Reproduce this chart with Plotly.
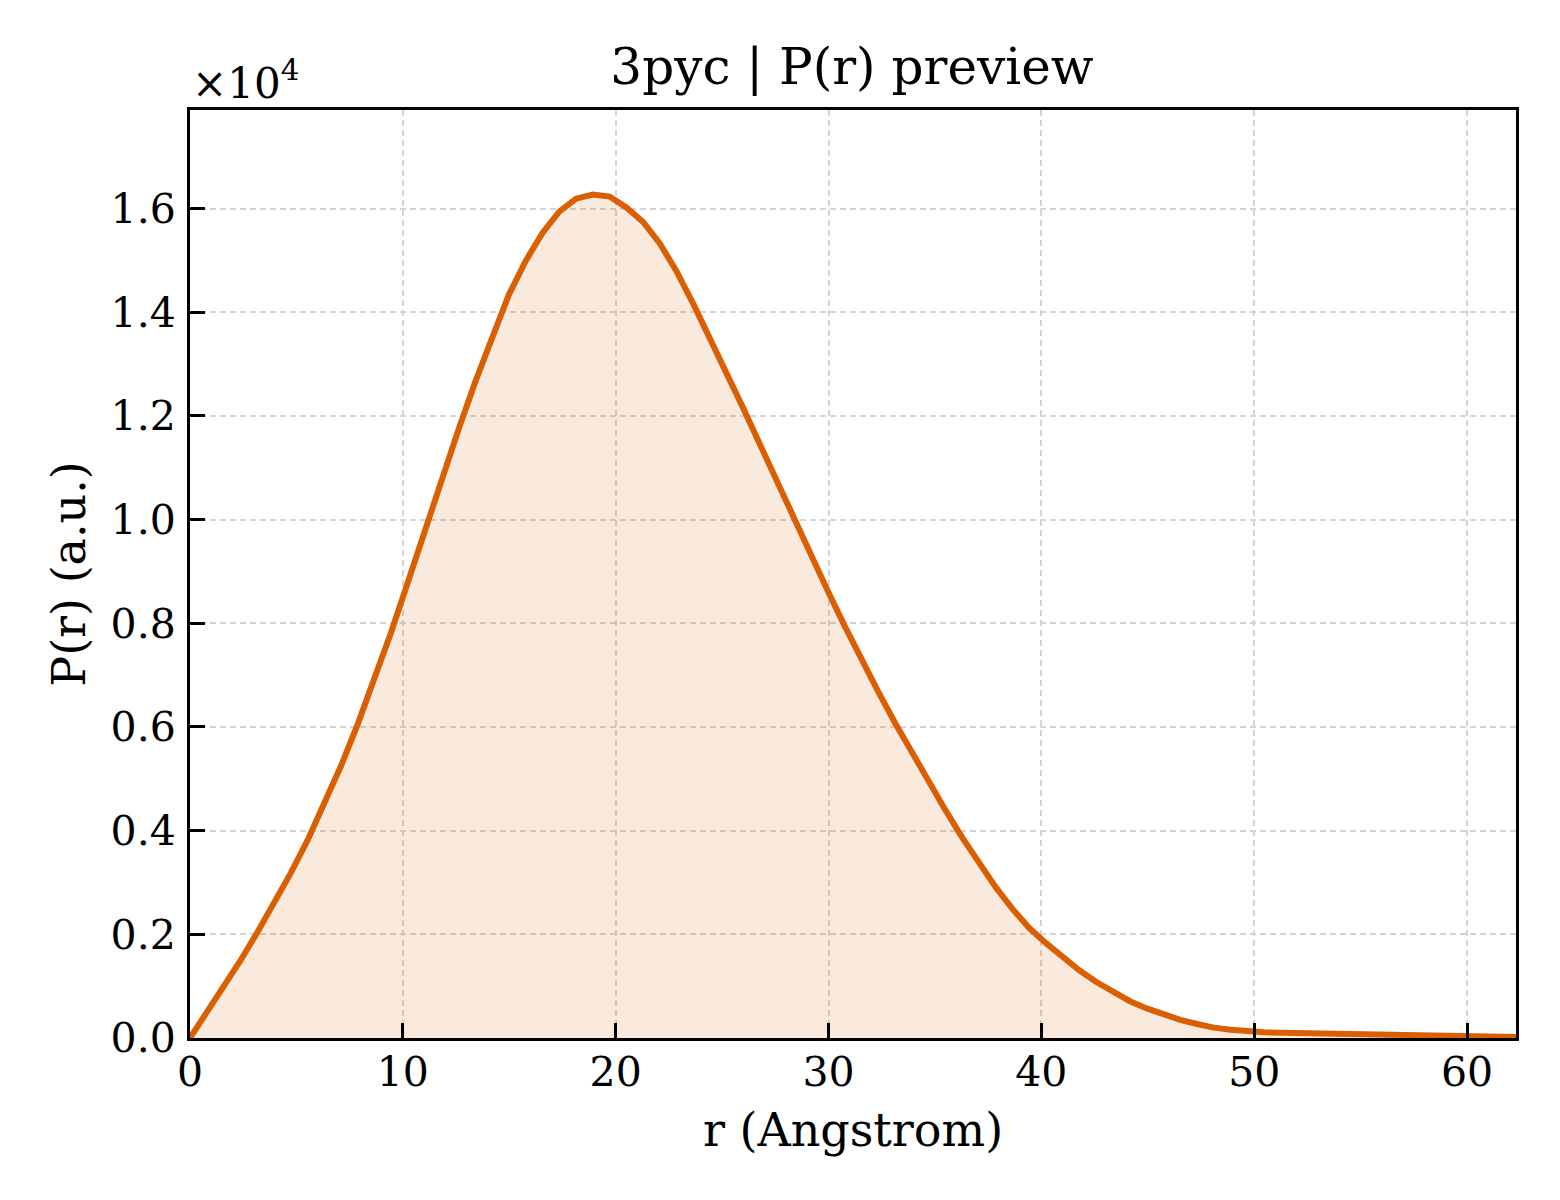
import plotly.graph_objects as go

# r (Angstrom) sampling points
r_values = [0.000, 0.789, 1.577, 2.366, 3.154, 3.943, 4.732, 5.520, 6.309, 7.097,
            7.886, 8.675, 9.463, 10.252, 11.041, 11.829, 12.618, 13.406, 14.195, 14.984,
            15.772, 16.561, 17.349, 18.138, 18.927, 19.715, 20.504, 21.292, 22.081, 22.870,
            23.658, 24.447, 25.235, 26.024, 26.813, 27.601, 28.390, 29.178, 29.967, 30.756,
            31.544, 32.333, 33.122, 33.910, 34.699, 35.487, 36.276, 37.065, 37.853, 38.642,
            39.430, 40.219, 41.008, 41.796, 42.585, 43.373, 44.162, 44.951, 45.739, 46.528,
            47.316, 48.105, 48.894, 49.682, 50.471, 51.259, 52.048, 52.837, 53.625, 54.414,
            55.203, 55.991, 56.780, 57.568, 58.357, 59.146, 59.934, 60.723, 61.511, 62.300]

# P(r) values (a.u.)
p_values = [0, 480, 980, 1490, 2030, 2590, 3180, 3810, 4500, 5250,
            6060, 6930, 7840, 8810, 9800, 10790, 11740, 12660, 13540, 14340,
            14990, 15530, 15940, 16190, 16270, 16230, 16020, 15740, 15320, 14780,
            14150, 13490, 12810, 12120, 11420, 10710, 10000, 9290, 8620, 7950,
            7300, 6680, 6080, 5510, 4950, 4400, 3870, 3370, 2910, 2490,
            2120, 1830, 1550, 1300, 1080, 880, 710, 570, 450, 350,
            270, 200, 160, 130, 110, 100, 95, 90, 85, 80,
            70, 60, 50, 40, 30, 30, 30, 30, 20, 20]

x_ticks = [0, 10, 20, 30, 40, 50, 60]
y_tick_vals = [0, 2000, 4000, 6000, 8000, 10000, 12000, 14000, 16000]
y_tick_text = ["0.0", "0.2", "0.4", "0.6", "0.8", "1.0", "1.2", "1.4", "1.6"]

FONT = "DejaVu Serif"
LINE_COLOR = "#D95F02"

fig = go.Figure()
fig.add_trace(go.Scatter(
    x=r_values, y=p_values, mode="lines",
    line=dict(color=LINE_COLOR, width=6),
    fill="tozeroy", fillcolor="rgba(217,95,2,0.13)",
    showlegend=False,
))

axis_common = dict(
    showline=True, linecolor="black", linewidth=3, mirror=True,
    ticks="inside", ticklen=15, tickwidth=3, tickcolor="black",
    showgrid=True, gridcolor="#d4d4d4", gridwidth=1.5, griddash="6px,4px",
    zeroline=False,
    tickfont=dict(family=FONT, size=41, color="black"),
)

fig.update_xaxes(
    range=[0, 62.3], tickvals=x_ticks,
    title=dict(text="r (Angstrom)", font=dict(family=FONT, size=46, color="black"), standoff=19),
    ticklabelstandoff=-4,
    **axis_common,
)
fig.update_yaxes(
    range=[0, 17900], tickvals=y_tick_vals, ticktext=y_tick_text,
    title=dict(text="P(r) (a.u.)", font=dict(family=FONT, size=46, color="black"), standoff=11),
    ticklabelstandoff=3,
    **axis_common,
)

fig.update_layout(
    width=1560, height=1200,
    margin=dict(l=182, r=52, t=102, b=170),
    paper_bgcolor="white", plot_bgcolor="white",
    title=dict(text="3pyc | P(r) preview", x=(852 - 8) / 1560, xanchor="center",
               y=1 - 58 / 1200, yanchor="middle",
               font=dict(family=FONT, size=50, color="black")),
    annotations=[dict(text="×10<sup>4</sup>", xref="paper", yref="paper",
                      x=0.0, y=1.0, xanchor="left", yanchor="bottom", yshift=0,
                      showarrow=False, font=dict(family=FONT, size=42, color="black"))],
)

fig.write_html("out.html")
